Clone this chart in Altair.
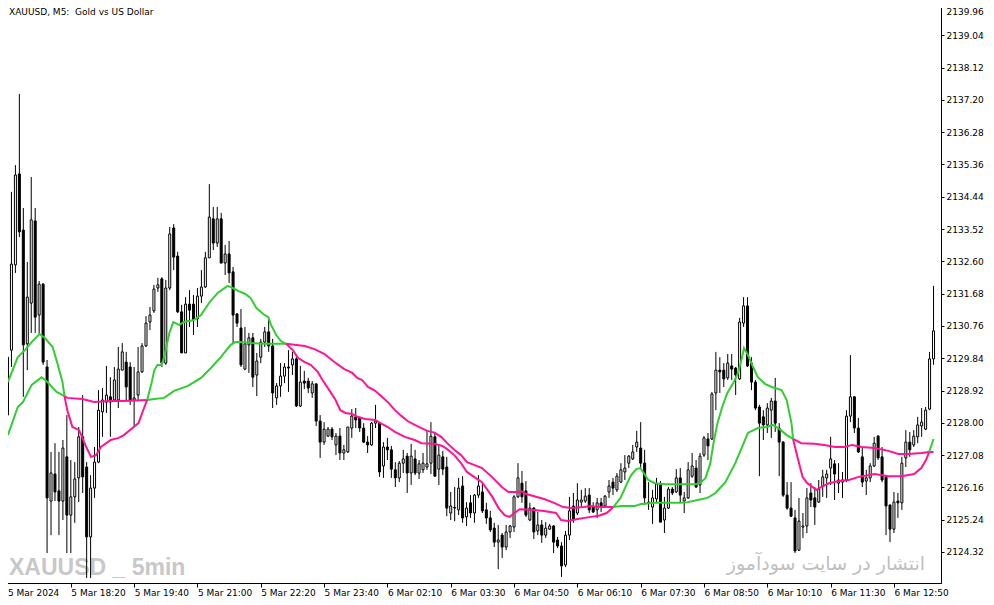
import altair as alt
import pandas as pd

TITLE = "XAUUSD, M5:\u00a0 Gold vs US Dollar"
WATERMARK_LEFT = "XAUUSD _ 5min"
WATERMARK_RIGHT = "انتشار در سایت سودآموز"

X_TICKS = [0, 16, 32, 48, 64, 80, 96, 112, 128, 144, 160, 176, 192, 208, 224]
X_LABELS = ["5 Mar 2024", "5 Mar 18:20", "5 Mar 19:40", "5 Mar 21:00", "5 Mar 22:20",
            "5 Mar 23:40", "6 Mar 02:10", "6 Mar 03:30", "6 Mar 04:50", "6 Mar 06:10",
            "6 Mar 07:30", "6 Mar 08:50", "6 Mar 10:10", "6 Mar 11:30", "6 Mar 12:50"]
Y_TICKS = [2124.32, 2125.24, 2126.16, 2127.08, 2128.00, 2128.92, 2129.84, 2130.76, 2131.68,
           2132.60, 2133.52, 2134.44, 2135.36, 2136.28, 2137.20, 2138.12, 2139.04, 2139.96]

OPEN = [
    2129.87, 2130.07, 2132.50, 2135.09, 2133.49, 2130.25, 2131.41, 2133.75, 2131.07, 2131.95,
    2129.59, 2125.77, 2126.54, 2126.06, 2125.77, 2127.03, 2125.37, 2125.89, 2126.43, 2127.60,
    2126.74, 2124.75, 2126.14, 2126.88, 2128.31, 2128.59, 2128.74, 2128.65, 2128.65, 2129.50,
    2129.73, 2129.59, 2128.65, 2128.79, 2129.45, 2130.19, 2130.87, 2131.19, 2131.84, 2132.10,
    2129.70, 2131.84, 2133.55, 2132.75, 2131.16, 2129.99, 2131.38, 2131.38, 2130.96, 2131.61,
    2131.87, 2132.70, 2133.81, 2133.12, 2133.81, 2132.55, 2132.81, 2132.30, 2131.10, 2130.70,
    2129.53, 2130.22, 2130.42, 2129.36, 2129.87, 2130.30, 2130.59, 2130.19, 2128.71, 2129.05,
    2129.33, 2129.59, 2129.65, 2129.82, 2128.48, 2129.19, 2129.19, 2128.85, 2129.11, 2128.05,
    2127.45, 2127.62, 2127.82, 2127.37, 2127.62, 2127.14, 2127.17, 2127.85, 2128.17, 2128.14,
    2127.85, 2127.45, 2127.37, 2127.99, 2127.99, 2126.77, 2127.31, 2127.23, 2126.66, 2126.43,
    2126.85, 2127.05, 2126.57, 2126.97, 2126.57, 2126.66, 2126.74, 2126.85, 2127.60, 2126.68,
    2127.03, 2126.74, 2125.43, 2125.57, 2125.52, 2126.20, 2125.32, 2125.72, 2125.43, 2125.94,
    2126.03, 2125.52, 2125.29, 2125.00, 2124.60, 2124.80, 2124.46, 2124.89, 2125.03, 2125.89,
    2126.28, 2126.06, 2125.23, 2125.57, 2124.92, 2125.09, 2124.80, 2124.97, 2125.06, 2124.66,
    2124.49, 2123.95, 2124.80, 2125.63, 2125.43, 2125.74, 2125.77, 2125.94, 2125.60, 2125.52,
    2125.72, 2125.63, 2126.03, 2126.31, 2126.09, 2126.31, 2126.60, 2126.85, 2126.97, 2127.31,
    2127.28, 2126.85, 2125.74, 2125.60, 2125.83, 2126.26, 2125.23, 2125.57, 2126.11, 2126.03,
    2126.43, 2125.77, 2125.86, 2126.48, 2126.71, 2126.23, 2127.08, 2127.54, 2127.54, 2128.85,
    2129.50, 2129.50, 2129.28, 2129.62, 2129.56, 2129.25, 2130.84, 2131.33, 2129.70, 2129.16,
    2128.45, 2128.17, 2127.94, 2128.36, 2128.62, 2127.85, 2127.45, 2125.94, 2125.57, 2125.29,
    2124.37, 2125.03, 2125.06, 2126.00, 2125.86, 2125.74, 2126.20, 2126.43, 2126.71, 2126.83,
    2126.28, 2126.31, 2126.37, 2128.19, 2128.74, 2127.85, 2127.03, 2126.34, 2126.43, 2126.77,
    2127.62, 2127.03, 2126.46, 2125.66, 2124.97, 2125.77, 2125.72, 2127.00, 2127.45, 2127.37,
    2127.60, 2127.91, 2127.82, 2128.39, 2129.82,
]
HIGH = [
    2129.93, 2134.58, 2135.34, 2137.37, 2134.12, 2132.58, 2135.00, 2134.12, 2132.04, 2131.98,
    2129.79, 2127.17, 2127.42, 2127.17, 2127.51, 2128.22, 2126.94, 2126.88, 2127.88, 2128.79,
    2126.88, 2126.51, 2127.31, 2128.93, 2128.99, 2129.62, 2129.30, 2129.59, 2130.16, 2130.27,
    2130.02, 2129.73, 2129.59, 2130.16, 2130.27, 2131.04, 2131.30, 2131.93, 2132.13, 2132.15,
    2132.07, 2133.58, 2133.66, 2132.87, 2131.36, 2131.58, 2131.78, 2131.64, 2131.84, 2132.35,
    2132.87, 2134.80, 2134.15, 2134.15, 2133.98, 2133.07, 2133.18, 2132.44, 2131.13, 2131.24,
    2130.73, 2130.56, 2130.56, 2129.99, 2130.39, 2130.73, 2130.99, 2130.39, 2129.13, 2129.70,
    2129.70, 2130.07, 2130.02, 2129.87, 2129.62, 2129.48, 2129.28, 2129.19, 2129.11, 2128.22,
    2128.02, 2127.88, 2127.88, 2127.71, 2127.85, 2127.37, 2127.88, 2128.39, 2128.42, 2128.17,
    2127.99, 2127.62, 2128.02, 2128.51, 2127.99, 2127.45, 2127.57, 2127.34, 2126.88, 2126.91,
    2127.23, 2127.14, 2127.40, 2127.23, 2126.94, 2127.14, 2127.79, 2128.02, 2127.74, 2127.34,
    2127.20, 2127.03, 2126.03, 2126.17, 2126.43, 2126.48, 2125.74, 2125.94, 2125.97, 2126.51,
    2126.28, 2125.72, 2125.49, 2125.15, 2125.09, 2124.86, 2125.09, 2125.09, 2125.94, 2126.85,
    2126.63, 2126.34, 2125.72, 2125.60, 2125.46, 2125.23, 2125.17, 2125.12, 2125.09, 2124.75,
    2124.60, 2124.92, 2125.89, 2126.00, 2126.28, 2126.09, 2126.14, 2126.14, 2125.74, 2125.86,
    2125.86, 2125.94, 2126.37, 2126.43, 2126.57, 2126.85, 2127.08, 2127.08, 2127.37, 2127.77,
    2128.02, 2127.23, 2126.31, 2126.09, 2126.43, 2126.34, 2125.89, 2126.17, 2126.17, 2126.68,
    2126.71, 2126.03, 2126.88, 2127.14, 2126.94, 2127.14, 2127.62, 2127.71, 2128.88, 2130.02,
    2129.87, 2129.70, 2129.96, 2129.96, 2129.59, 2130.99, 2131.58, 2131.58, 2129.87, 2129.22,
    2128.51, 2128.36, 2128.56, 2128.71, 2129.28, 2127.99, 2127.48, 2126.31, 2126.31, 2125.52,
    2125.86, 2125.43, 2126.14, 2126.28, 2126.17, 2126.37, 2126.66, 2126.66, 2127.60, 2126.94,
    2126.85, 2126.60, 2128.36, 2129.93, 2128.76, 2128.14, 2127.31, 2126.66, 2126.85, 2127.60,
    2127.65, 2127.31, 2126.51, 2125.66, 2126.03, 2126.00, 2127.03, 2127.79, 2127.74, 2127.79,
    2128.17, 2128.42, 2128.45, 2130.02, 2131.90,
]
LOW = [
    2128.14, 2129.59, 2132.27, 2133.29, 2128.74, 2129.50, 2130.56, 2130.56, 2130.50, 2129.65,
    2124.29, 2124.80, 2125.77, 2124.80, 2125.23, 2124.29, 2124.29, 2125.15, 2125.74, 2126.00,
    2123.58, 2123.58, 2125.86, 2126.85, 2127.60, 2128.28, 2127.60, 2128.59, 2128.42, 2129.50,
    2128.65, 2128.51, 2127.88, 2128.65, 2129.42, 2130.16, 2130.64, 2131.13, 2131.73, 2129.59,
    2129.65, 2131.78, 2132.35, 2131.13, 2129.99, 2129.99, 2130.73, 2130.50, 2130.73, 2131.41,
    2131.84, 2132.70, 2132.92, 2133.01, 2132.55, 2132.21, 2131.98, 2130.27, 2130.73, 2129.59,
    2129.50, 2129.42, 2129.02, 2128.76, 2129.70, 2130.16, 2130.02, 2128.42, 2128.51, 2128.74,
    2129.13, 2128.88, 2129.36, 2128.45, 2128.45, 2128.96, 2128.85, 2128.71, 2127.91, 2127.00,
    2127.37, 2127.60, 2127.51, 2127.08, 2126.94, 2126.94, 2127.14, 2127.57, 2127.85, 2127.74,
    2127.42, 2127.14, 2127.34, 2127.85, 2126.46, 2126.43, 2126.94, 2126.43, 2126.17, 2126.31,
    2126.57, 2126.00, 2126.23, 2126.51, 2126.40, 2126.57, 2126.66, 2126.54, 2126.46, 2126.23,
    2126.51, 2125.34, 2125.23, 2125.20, 2125.37, 2125.15, 2125.06, 2125.29, 2125.15, 2125.86,
    2125.43, 2125.12, 2124.89, 2124.46, 2123.83, 2124.15, 2124.37, 2124.72, 2124.89, 2125.86,
    2125.72, 2125.32, 2125.20, 2124.69, 2124.80, 2124.58, 2124.72, 2124.95, 2124.29, 2124.43,
    2123.61, 2123.89, 2124.66, 2125.15, 2125.37, 2125.60, 2125.72, 2125.43, 2125.43, 2125.29,
    2125.46, 2125.60, 2125.86, 2125.94, 2126.03, 2126.28, 2126.37, 2126.71, 2126.94, 2127.17,
    2126.71, 2125.66, 2125.52, 2125.12, 2125.72, 2125.17, 2124.86, 2125.54, 2125.94, 2126.00,
    2125.72, 2125.43, 2125.83, 2126.43, 2126.14, 2126.00, 2127.03, 2126.94, 2127.51, 2128.36,
    2128.85, 2129.02, 2129.22, 2129.22, 2128.79, 2129.22, 2130.73, 2129.59, 2128.93, 2128.36,
    2126.48, 2127.51, 2127.71, 2127.57, 2127.74, 2126.48, 2125.89, 2125.52, 2125.32, 2124.29,
    2124.35, 2124.72, 2124.86, 2125.60, 2125.09, 2125.72, 2125.89, 2125.86, 2126.23, 2125.80,
    2126.00, 2125.86, 2126.31, 2128.02, 2127.71, 2127.14, 2126.17, 2125.94, 2126.31, 2126.74,
    2126.94, 2126.31, 2124.80, 2124.60, 2124.86, 2125.29, 2125.52, 2126.74, 2127.03, 2127.31,
    2127.42, 2127.60, 2127.79, 2128.36, 2129.65,
]
CLOSE = [
    2128.22, 2132.52, 2135.06, 2133.44, 2130.22, 2131.58, 2133.78, 2131.01, 2131.95, 2129.73,
    2125.86, 2126.57, 2126.03, 2125.77, 2127.28, 2125.37, 2125.89, 2126.40, 2127.60, 2126.46,
    2124.75, 2126.14, 2126.88, 2128.36, 2128.65, 2128.79, 2128.59, 2129.22, 2129.53, 2130.02,
    2129.02, 2128.65, 2128.71, 2129.45, 2130.19, 2130.84, 2131.07, 2131.81, 2131.93, 2129.70,
    2131.84, 2133.38, 2132.72, 2131.16, 2129.99, 2131.38, 2131.21, 2130.93, 2131.61, 2131.87,
    2132.70, 2133.86, 2133.12, 2133.81, 2132.55, 2132.81, 2132.27, 2131.07, 2130.84, 2129.65,
    2130.25, 2130.42, 2129.30, 2129.76, 2130.30, 2130.59, 2130.19, 2128.85, 2129.05, 2129.33,
    2129.59, 2129.56, 2129.82, 2128.48, 2129.16, 2129.13, 2128.99, 2129.11, 2128.05, 2127.45,
    2127.82, 2127.82, 2127.60, 2127.62, 2127.14, 2127.23, 2127.88, 2128.19, 2128.08, 2127.85,
    2127.45, 2127.37, 2127.99, 2128.05, 2126.60, 2127.31, 2127.23, 2126.68, 2126.43, 2126.85,
    2126.97, 2126.57, 2127.05, 2126.57, 2126.83, 2126.85, 2126.83, 2127.62, 2126.48, 2127.08,
    2126.68, 2125.57, 2125.63, 2125.59, 2126.14, 2125.29, 2125.57, 2125.43, 2125.94, 2126.20,
    2125.49, 2125.29, 2124.95, 2124.60, 2124.66, 2124.46, 2124.89, 2125.06, 2125.89, 2126.43,
    2125.89, 2125.37, 2125.57, 2124.89, 2125.09, 2124.80, 2125.00, 2125.06, 2124.60, 2124.49,
    2123.92, 2124.80, 2125.49, 2125.23, 2125.80, 2125.80, 2125.91, 2125.52, 2125.46, 2125.72,
    2125.60, 2125.91, 2126.20, 2126.14, 2126.48, 2126.66, 2126.71, 2127.05, 2127.17, 2127.45,
    2126.85, 2125.86, 2125.72, 2125.86, 2126.26, 2125.17, 2125.57, 2126.11, 2126.00, 2126.43,
    2125.94, 2125.86, 2126.66, 2126.77, 2126.17, 2127.05, 2127.57, 2127.34, 2128.82, 2129.50,
    2129.45, 2129.25, 2129.70, 2129.53, 2129.36, 2130.87, 2131.33, 2129.62, 2129.16, 2128.42,
    2127.99, 2127.94, 2128.42, 2128.62, 2127.99, 2127.45, 2125.94, 2125.57, 2125.34, 2124.35,
    2125.20, 2125.06, 2125.86, 2125.80, 2125.60, 2126.11, 2126.46, 2126.54, 2126.97, 2126.54,
    2126.37, 2126.37, 2128.19, 2128.74, 2127.85, 2127.17, 2126.31, 2126.43, 2126.77, 2127.42,
    2127.00, 2126.37, 2125.63, 2124.97, 2125.74, 2125.72, 2126.85, 2127.45, 2127.23, 2127.62,
    2127.94, 2128.02, 2128.36, 2129.82, 2130.62,
]

# Fast indicator line, split where its colour changes: (trend, bar positions, values)
FAST_SEGMENTS = [
    ("up", [0.1, 2.6, 4.4, 6.1, 8.1, 9.4, 11.4, 12.6, 13.9, 14.4],
     [2129.16, 2129.87, 2130.07, 2130.30, 2130.53, 2130.42, 2130.16, 2129.70, 2129.16, 2128.76]),
    ("down", [14.4, 15.1, 16.4, 18.1, 19.9, 21.1, 22.4, 23.6, 26.1, 28.1, 29.4, 31.9, 33.1, 34.6, 35.3],
     [2128.76, 2128.36, 2127.88, 2127.79, 2127.31, 2127.03, 2127.08, 2127.31, 2127.51, 2127.57,
      2127.65, 2127.88, 2127.99, 2128.45, 2128.65]),
    ("up", [35.3, 36.4, 37.1, 37.9, 38.9, 39.6, 40.9, 41.9, 43.4, 44.6, 47.1, 48.9, 50.9, 53.1,
            55.6, 56.9, 58.4, 60.1, 61.4, 62.9, 64.6, 65.9, 66.6, 67.9, 69.1, 70.4],
     [2128.65, 2129.13, 2129.50, 2129.65, 2129.65, 2129.87, 2130.56, 2130.87, 2130.79, 2130.87,
      2130.93, 2131.07, 2131.41, 2131.70, 2131.90, 2131.84, 2131.75, 2131.67, 2131.56, 2131.27,
      2131.10, 2131.01, 2130.79, 2130.50, 2130.33, 2130.25]),
    ("down", [70.4, 72.1, 73.4, 75.1, 76.6, 78.4, 79.6, 81.6, 82.9, 84.1, 85.4, 87.1, 88.4, 90.4,
              92.9, 94.6, 96.1, 97.9, 100.4, 102.9, 104.6, 107.9, 109.9, 111.1, 112.9, 114.6,
              116.1, 117.9, 119.9, 122.4, 124.1, 125.6, 126.9, 128.1, 129.4, 132.4, 135.6, 138.6,
              139.9, 141.6, 144.1, 147.4, 149.4, 151.4, 153.1],
     [2130.25, 2130.07, 2129.85, 2129.73, 2129.65, 2129.45, 2129.22, 2128.88, 2128.65, 2128.36,
      2128.28, 2128.25, 2128.17, 2128.11, 2128.08, 2127.97, 2127.88, 2127.74, 2127.60, 2127.51,
      2127.42, 2127.40, 2127.34, 2127.25, 2127.08, 2126.85, 2126.60, 2126.46, 2126.31, 2125.91,
      2125.57, 2125.37, 2125.32, 2125.43, 2125.54, 2125.52, 2125.49, 2125.43, 2125.23, 2125.20,
      2125.26, 2125.32, 2125.35, 2125.43, 2125.60]),
    ("up", [153.1, 154.9, 156.4, 157.6, 158.9, 159.9, 160.6, 161.9, 163.6, 166.1, 170.1, 173.6,
            175.1, 176.4, 177.6, 178.4, 179.4, 180.6, 181.9, 183.4, 184.6, 185.6, 186.1, 187.1,
            188.4, 189.6, 191.4, 193.1, 195.6, 196.9, 198.1, 198.5],
     [2125.60, 2125.86, 2126.23, 2126.51, 2126.68, 2126.71, 2126.60, 2126.37, 2126.28, 2126.25,
      2126.25, 2126.25, 2126.28, 2126.43, 2126.85, 2127.42, 2127.99, 2128.45, 2128.85, 2129.13,
      2129.42, 2129.85, 2130.13, 2129.93, 2129.59, 2129.30, 2129.11, 2129.02, 2128.93, 2128.65,
      2127.99, 2127.54]),
    ("down", [198.5, 199.6, 200.9, 202.1, 204.4, 205.6, 207.6, 210.1, 212.6, 215.1, 219.1, 222.6,
              225.9, 229.1, 230.9, 232.1, 232.9],
     [2127.54, 2127.03, 2126.46, 2126.28, 2126.09, 2126.17, 2126.28, 2126.34, 2126.37, 2126.46,
      2126.54, 2126.48, 2126.48, 2126.54, 2126.71, 2126.94, 2127.17]),
    ("up", [232.9, 234.0], [2127.17, 2127.54]),
]

# Slow indicator line, split where its colour changes
SLOW_SEGMENTS = [
    ("up", [0.1, 2.6, 3.9, 6.1, 8.6, 10.1, 12.4, 14.4],
     [2127.65, 2128.45, 2128.59, 2129.08, 2129.30, 2129.16, 2128.88, 2128.76]),
    ("down", [14.4, 15.1, 18.9, 21.9, 26.1, 29.4, 35.3],
     [2128.76, 2128.71, 2128.68, 2128.59, 2128.62, 2128.62, 2128.65]),
    ("up", [35.3, 37.1, 39.6, 42.1, 45.6, 48.9, 51.4, 53.9, 56.4, 57.6, 58.9, 61.6, 65.1, 70.4],
     [2128.65, 2128.68, 2128.71, 2128.91, 2129.05, 2129.28, 2129.56, 2129.87, 2130.22, 2130.30,
      2130.30, 2130.27, 2130.25, 2130.25]),
    ("down", [70.4, 75.1, 77.6, 80.1, 82.6, 85.1, 87.1, 88.4, 89.6, 91.1, 92.9, 94.6, 96.1, 97.9,
              99.6, 101.1, 102.9, 104.6, 106.1, 107.9, 109.6, 111.1, 112.9, 114.6, 116.1, 117.9,
              119.9, 122.4, 124.9, 126.6, 129.1, 129.9, 131.1, 133.1, 135.6, 138.1, 140.4, 142.4,
              145.6, 147.4, 149.4, 153.1],
     [2130.25, 2130.19, 2130.10, 2129.96, 2129.73, 2129.53, 2129.42, 2129.28, 2129.22, 2129.02,
      2128.91, 2128.74, 2128.59, 2128.36, 2128.19, 2128.05, 2127.94, 2127.85, 2127.77, 2127.72,
      2127.60, 2127.42, 2127.23, 2127.08, 2126.88, 2126.80, 2126.71, 2126.46, 2126.17, 2126.03,
      2126.03, 2126.05, 2125.97, 2125.91, 2125.83, 2125.72, 2125.60, 2125.57, 2125.60, 2125.63,
      2125.60, 2125.60]),
    ("up", [153.1, 155.1, 158.6, 160.1, 163.6, 170.1, 171.9, 174.4, 176.9, 178.9, 181.4, 183.9,
            185.6, 187.1, 189.6, 191.9, 193.4, 195.1, 196.9, 198.5],
     [2125.60, 2125.63, 2125.63, 2125.69, 2125.72, 2125.72, 2125.74, 2125.80, 2125.86, 2126.00,
      2126.31, 2126.85, 2127.31, 2127.71, 2127.85, 2127.88, 2127.94, 2127.82, 2127.65, 2127.54]),
    ("down", [198.5, 200.6, 203.9, 206.4, 209.1, 211.6, 213.4, 215.9, 219.1, 222.6, 225.1, 227.6,
              230.9, 232.9, 234.0],
     [2127.54, 2127.42, 2127.40, 2127.37, 2127.31, 2127.31, 2127.37, 2127.31, 2127.28, 2127.20,
      2127.11, 2127.11, 2127.14, 2127.17, 2127.17]),
]

GREEN = "#32CD32"
PINK = "#FF1493"

candles = pd.DataFrame({"bar": list(range(len(OPEN))), "open": OPEN, "high": HIGH,
                        "low": LOW, "close": CLOSE})
candles["dir"] = ["bull" if c >= o else "bear" for o, c in zip(OPEN, CLOSE)]

rows = []
for name, segs in (("slow", SLOW_SEGMENTS), ("fast", FAST_SEGMENTS)):
    for k, (trend, xs, ys) in enumerate(segs):
        for j, (xv, yv) in enumerate(zip(xs, ys)):
            rows.append({"seg": f"{name}{k}", "trend": trend, "bar": xv, "value": yv, "ord": j})
lines = pd.DataFrame(rows)

x_scale = alt.Scale(domain=[-0.125, 234.625], nice=False, zero=False)
y_scale = alt.Scale(domain=[2123.436, 2139.988], nice=False, zero=False)

label_expr = "[" + ",".join("'" + s + "'" for s in X_LABELS) + "][round(datum.value / 16)]"

AXIS_FONT = "DejaVu Sans"
TOP_TEST = "datum.value > 2139.5"
x_axis = alt.Axis(values=X_TICKS, labelExpr=label_expr, title=None, grid=False, orient="bottom",
                  tickSize=4, tickColor="black", domainColor="black", labelAlign="left",
                  labelBaseline="top", labelPadding=1, labelFont=AXIS_FONT, labelFontSize=9,
                  labelColor="black", labelOverlap=False, labelFlush=False)
y_axis = alt.Axis(values=Y_TICKS, format=".2f", title=None, grid=False, orient="right",
                  tickSize=3, tickColor="black", domainColor="black", labelPadding=2,
                  labelFont=AXIS_FONT, labelFontSize=9, labelColor="black",
                  labelBaseline=alt.condition(TOP_TEST, alt.value("top"), alt.value("middle")),
                  labelOffset=alt.condition(TOP_TEST, alt.value(5), alt.value(0)),
                  labelOverlap=False, labelFlush=False)

def xenc():
    return alt.X("bar:Q", scale=x_scale, axis=x_axis)

def yenc(field):
    return alt.Y(field, scale=y_scale, axis=y_axis)

wm_left = alt.Chart(pd.DataFrame({"t": [WATERMARK_LEFT]})).mark_text(
    align="left", baseline="alphabetic", font="Liberation Sans",
    fontWeight="bold", fontSize=23, color="#c8c8c8"
).encode(x=alt.value(7), y=alt.value(573), text="t:N")

wm_right = alt.Chart(pd.DataFrame({"t": [WATERMARK_RIGHT]})).mark_text(
    align="right", baseline="alphabetic", font="DejaVu Sans", fontWeight="normal",
    fontSize=19, color="#c0c0c0"
).encode(x=alt.value(923), y=alt.value(568), text="t:N")

wicks = alt.Chart(candles).mark_rule(color="black", strokeWidth=1).encode(
    x=xenc(), y=yenc("low:Q"), y2="high:Q")

bodies = alt.Chart(candles).mark_bar(size=2, stroke="black", strokeWidth=1).encode(
    x=xenc(), y=yenc("open:Q"), y2="close:Q",
    fill=alt.Fill("dir:N", scale=alt.Scale(domain=["bull", "bear"], range=["white", "black"]),
                  legend=None))

ind = alt.Chart(lines).mark_line(strokeWidth=2).encode(
    x=xenc(), y=yenc("value:Q"),
    color=alt.Color("trend:N", scale=alt.Scale(domain=["up", "down"], range=[GREEN, PINK]),
                    legend=None),
    detail="seg:N", order="ord:Q")

title = alt.Chart(pd.DataFrame({"t": [TITLE]})).mark_text(
    align="left", baseline="alphabetic", font=AXIS_FONT, fontSize=9, color="black"
).encode(x=alt.value(7), y=alt.value(13), text="t:N")

chart = alt.layer(wm_left, wm_right, wicks, bodies, ind, title).properties(
    width=939, height=581, background="white",
    padding={"left": -6, "top": -6, "right": 44, "bottom": 14},
    autosize=alt.AutoSizeParams(type="none"),
).configure_view(stroke="black", strokeWidth=1)

chart.save("out.html", embed_options={"renderer": "svg", "actions": False})
